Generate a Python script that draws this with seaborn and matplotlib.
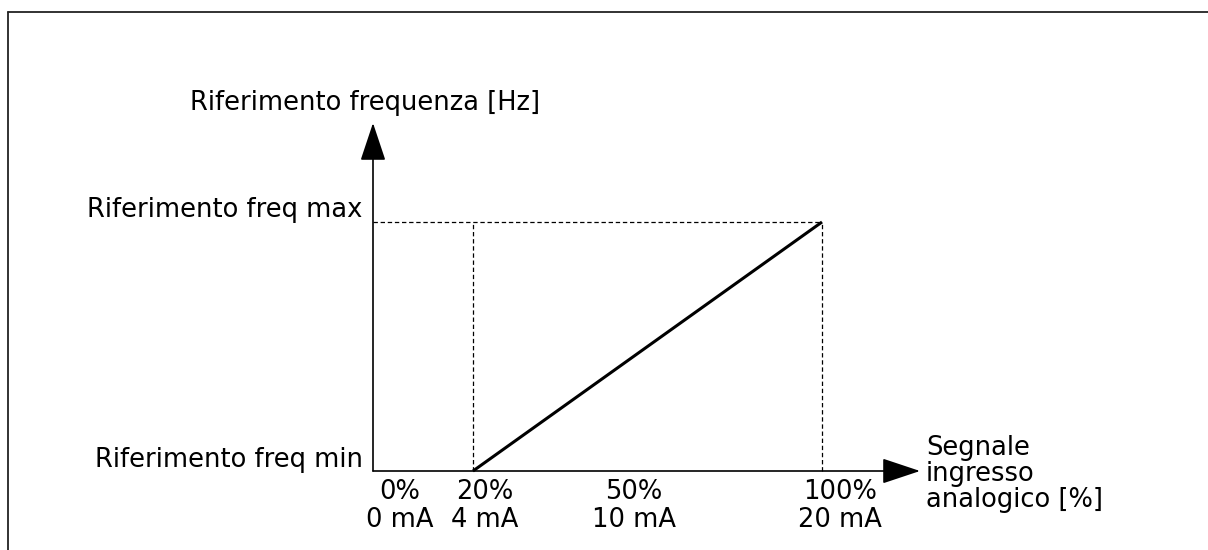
import matplotlib
matplotlib.use("Agg")
import matplotlib.pyplot as plt
from matplotlib.patches import FancyArrowPatch, ArrowStyle
from matplotlib.lines import Line2D
import seaborn as sns
import pandas as pd

# Analog input signal (% of range) against frequency reference (0 = min, 1 = max)
signal_pct = [20, 100]
freq_ref = [0.0, 1.0]

tick_values = [0, 20, 50, 100]
tick_labels = ["0%\n0 mA", "20%\n4 mA", "50%\n10 mA", "100%\n20 mA"]
tick_label_x = [3.2, 22.6, 56.8, 104.2]

y_labels = ["Riferimento freq min", "Riferimento freq max"]
y_title = "Riferimento frequenza [Hz]"
x_title = "Segnale\ningresso\nanalogico [%]"

sns.set_theme(style="white")
plt.rcParams["font.family"] = ["DejaVu Sans"]

W, H, DPI = 1208, 550, 100
fig = plt.figure(figsize=(W / DPI, H / DPI), dpi=DPI)
ax = fig.add_axes([0, 0, 1, 1])

# Scale: 20 % sits at x=473 px, 100 % at 822 px; min at y=471 px, max at 222 px
px_per_pct = (822 - 473) / 80
px_per_unit = 471 - 222
ax.set_xlim(20 - 473 / px_per_pct, 20 + (W - 473) / px_per_pct)
ax.set_ylim(-(H - 471) / px_per_unit, 471 / px_per_unit)
ax.axis("off")

x_origin = 20 - (473 - 373) / px_per_pct
x_end = 20 + (920 - 473) / px_per_pct
y_end = (471 - 123) / px_per_unit

df = pd.DataFrame({"signal": signal_pct, "ref": freq_ref})
sns.lineplot(data=df, x="signal", y="ref", ax=ax, color="black", lw=2.2,
             solid_capstyle="butt", zorder=3)

# Guide lines
dash = dict(color="black", lw=0.9, ls=(0, (3.5, 2.2)), zorder=2)
ax.plot([x_origin, signal_pct[1]], [freq_ref[1], freq_ref[1]], **dash)
ax.plot([signal_pct[0], signal_pct[0]], [freq_ref[0], freq_ref[1]], **dash)
ax.plot([signal_pct[1], signal_pct[1]], [freq_ref[0], freq_ref[1]], **dash)

# Axes with filled arrowheads
style = ArrowStyle("-|>", head_length=24, head_width=8)
for end in [(x_end, 0.0), (x_origin, y_end)]:
    ax.add_patch(FancyArrowPatch((x_origin, 0.0), end, arrowstyle=style,
                                 mutation_scale=1, color="black", lw=1.2,
                                 shrinkA=0, shrinkB=0, zorder=4))

fs = 18.5
ax.text(x_origin - 2.4, 0.016, y_labels[0], ha="right",
        va="baseline", fontsize=fs, color="black")
ax.text(x_origin - 2.4, 1.020, y_labels[1], ha="right",
        va="baseline", fontsize=fs, color="black")
ax.text(-44.9, 1.45, y_title, ha="left", va="baseline",
        fontsize=fs, color="black")
ax.text(x_end + 1.4, -0.1446, x_title, ha="left", va="baseline",
        fontsize=fs, color="black", linespacing=1.01)

for xv, lab in zip(tick_label_x, tick_labels):
    ax.text(xv, -0.225, lab, ha="center", va="baseline", fontsize=fs,
            color="black", linespacing=1.09, multialignment="center")

# Page frame (top and left edges)
fig.add_artist(Line2D([8 / W, 8 / W], [0, 1 - 12 / H], color="#222222",
                      lw=1.3, transform=fig.transFigure))
fig.add_artist(Line2D([8 / W, 1], [1 - 12 / H, 1 - 12 / H], color="#222222",
                      lw=1.3, transform=fig.transFigure))

fig.savefig("out.png", dpi=DPI, facecolor="white")
